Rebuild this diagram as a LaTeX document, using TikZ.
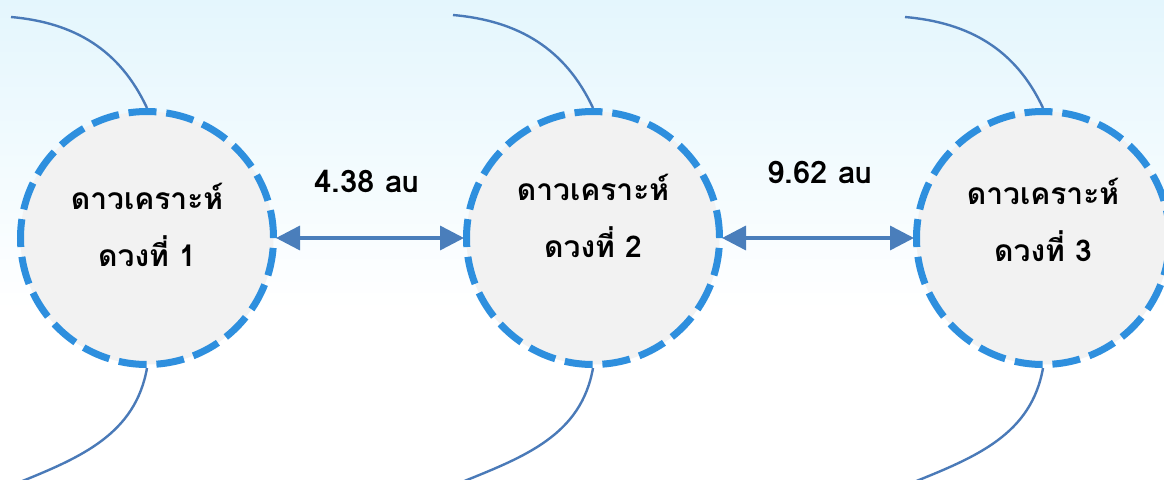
\documentclass[tikz,border=0pt]{standalone}
\usepackage{fontspec}
\newfontfamily\thaifont[Script=Thai]{Loma}
\usetikzlibrary{arrows.meta}
\pgfdeclarelayer{bglayer}
\pgfdeclarelayer{orbitlayer}
\pgfsetlayers{bglayer,orbitlayer,main}
\definecolor{dashblue}{RGB}{46,143,222}
\definecolor{orbitblue}{RGB}{74,122,184}
\definecolor{arrowblue}{RGB}{74,126,187}
\definecolor{planetfill}{RGB}{242,242,242}
\definecolor{bgtop}{RGB}{228,246,253}
\begin{document}
\begin{tikzpicture}[x=1pt,y=-1pt,
  planet/.style={circle, minimum size=253pt, inner sep=0pt, draw=dashblue,
    line width=7pt, dash pattern=on 28pt off 9.85pt, fill=planetfill},
  planettext/.style={align=center, text=black, inner sep=0pt,
    font=\thaifont\bfseries\fontsize{30}{57}\selectfont},
  orbit/.style={draw=orbitblue, line width=2.4pt},
  dist/.style={draw=arrowblue, line width=3.5pt,
    {Triangle[length=24pt,width=24pt]}-{Triangle[length=24pt,width=24pt]},
    shorten <=-1pt, shorten >=-1pt},
  distlabel/.style={font=\thaifont\bfseries\fontsize{31}{36}\selectfont, text=black}]
\useasboundingbox (0,0) rectangle (1164,479);
\begin{pgfonlayer}{bglayer}
  \fill[white] (0,0) rectangle (1164,479);
  \shade[top color=bgtop, bottom color=white] (0,0) rectangle (1164,310);
\end{pgfonlayer}

\node[planet] (c1) at (147,238) {};
\node[planet] (c2) at (593,238) {};
\node[planet] (c3) at (1043,238) {};

\node[planettext] (n1) at ([yshift=13pt]c1.center) {ดาวเคราะห์\\ดวงที่ 1};
\node[planettext] (n2) at ([yshift=22pt]c2.center) {ดาวเคราะห์\\ดวงที่ 2};
\node[planettext] (n3) at ([yshift=18pt]c3.center) {ดาวเคราะห์\\ดวงที่ 3};

\coordinate (t1) at (11,17);
\coordinate (t2) at (453,15);
\coordinate (t3) at (905,17);
\coordinate (b1) at (20,482);
\coordinate (b2) at (462,482);
\coordinate (b3) at (914,482);

\begin{pgfonlayer}{orbitlayer}
  \draw[orbit] (t1) to[out=-5,in=115] (c1.north);
  \draw[orbit] (c1.south) to[out=-100,in=22] (b1);
  \draw[orbit] (t2) to[out=-5,in=115] (c2.north);
  \draw[orbit] (c2.south) to[out=-100,in=22] (b2);
  \draw[orbit] (t3) to[out=-5,in=115] (c3.north);
  \draw[orbit] (c3.south) to[out=-100,in=22] (b3);
\end{pgfonlayer}

\draw[dist] (c1) -- (c2);
\draw[dist] (c2) -- (c3);

\node[distlabel] (l1) at (367,181) {4.38 au};
\node[distlabel] (l2) at (820,172) {9.62 au};
\end{tikzpicture}
\end{document}
